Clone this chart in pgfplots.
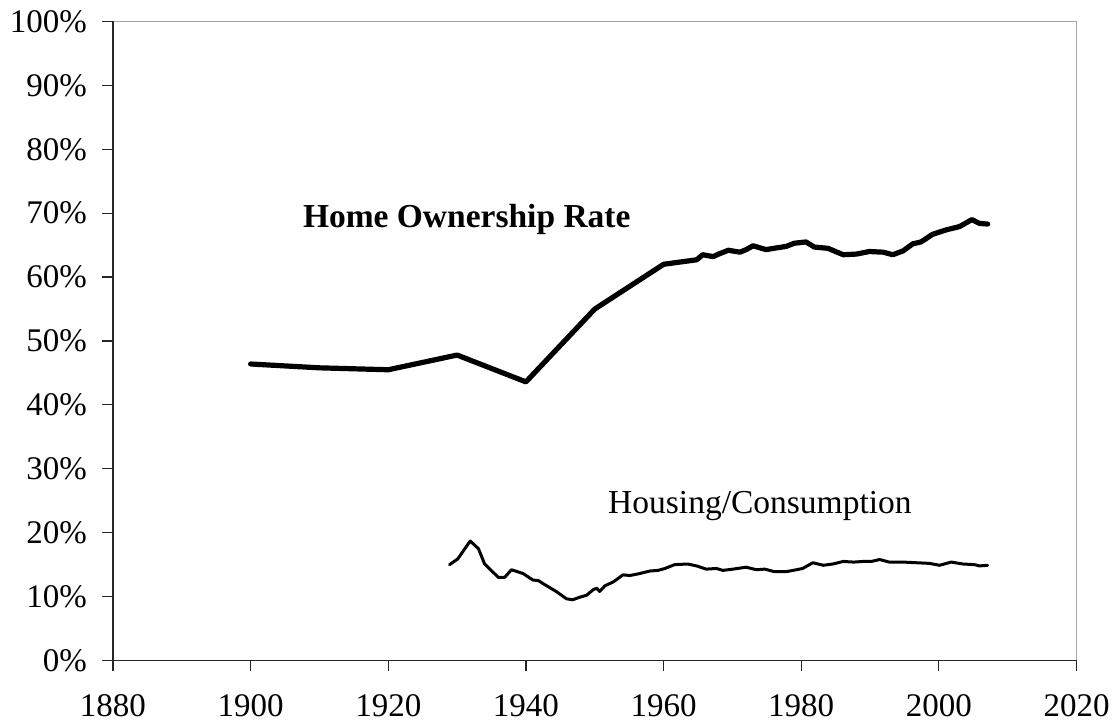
\documentclass[border=0pt]{standalone}
\usepackage{pgfplots}
\pgfplotsset{compat=1.18}
\usepackage{fontspec}
\setmainfont{Liberation Serif}
\begin{document}
\begin{tikzpicture}
\begin{axis}[
  name=ax,
  scale only axis,
  width=481.75pt, height=319.5pt,
  xmin=1880, xmax=2020, ymin=0, ymax=100,
  xtick={1880,1900,...,2020},
  ytick={0,10,...,100},
  /pgf/number format/assume math mode=true,
  xticklabel style={/pgf/number format/1000 sep={}},
  yticklabel={\pgfmathprintnumber{\tick}\%},
  tick label style={font=\fontsize{16.5}{20}\selectfont, text=black},
  tick align=outside,
  major tick length=5.5pt,
  xtick pos=bottom, ytick pos=left,
  tick style={black!85, line width=0.6pt},
  axis line style={gray!70, line width=0.6pt},
  xticklabel shift=8pt,
  yticklabel shift=4pt,
  clip=false,
]
\addplot[black, line width=2.6pt, line join=round, line cap=round] coordinates {
(1900,46.4) (1910,45.8) (1920,45.5) (1930,47.8) (1940,43.6) (1950,55.0)
(1960,62.0) (1962,62.3) (1964.8,62.7) (1965.7,63.5) (1967.2,63.2) (1968,63.6)
(1969.4,64.2) (1971.1,63.9) (1972,64.3) (1973.0,64.9) (1974.9,64.3) (1976,64.5)
(1977.8,64.8) (1979.0,65.3) (1980.7,65.5) (1981.9,64.7) (1983.9,64.5) (1986.1,63.5)
(1988.0,63.6) (1989.9,64.0) (1991.9,63.9) (1993.3,63.5) (1994.8,64.1) (1996.2,65.2)
(1997.4,65.5) (1999.1,66.7) (2001.1,67.4) (2003.0,67.9) (2004.8,69.0) (2005.9,68.4)
(2007.1,68.3)
};
\addplot[black, line width=1.5pt, line join=round, line cap=round] coordinates {
(1928.9,15.0) (1930.1,15.9) (1931.9,18.7) (1933.1,17.5) (1934.0,15.1) (1936.0,13.0)
(1936.9,13.0) (1937.9,14.2) (1939.6,13.6) (1941.0,12.6) (1941.8,12.5) (1943.0,11.7)
(1944.4,10.8) (1945.9,9.65) (1946.8,9.5) (1947.8,9.9) (1948.8,10.2) (1949.8,11.1)
(1950.3,11.3) (1950.7,10.8) (1951.5,11.7) (1952.7,12.3) (1954.1,13.4) (1955.1,13.3)
(1956.5,13.6) (1958.0,14.0) (1959.2,14.1) (1960.2,14.4) (1961.6,15.0) (1963.5,15.1)
(1964.8,14.8) (1966.2,14.3) (1967.7,14.4) (1968.6,14.1) (1970.1,14.3) (1972.0,14.6)
(1973.5,14.2) (1974.7,14.3) (1976.1,13.9) (1977.8,13.9) (1979.3,14.2) (1980.2,14.4)
(1981.7,15.3) (1983.2,14.9) (1984.6,15.1) (1986.1,15.5) (1987.6,15.4) (1989.0,15.5)
(1990.2,15.5) (1991.4,15.8) (1992.8,15.4) (1994.8,15.4) (1996.7,15.3) (1998.6,15.2)
(2000.1,14.9) (2001.8,15.4) (2003.5,15.1) (2005.2,15.0) (2005.9,14.8) (2007.1,14.9)
};
\node[anchor=base west, inner sep=0pt, font=\fontsize{16.75}{19}\selectfont\bfseries] at (axis cs:1907.55,67.8) {Home Ownership Rate};
\node[anchor=base west, inner sep=0pt, font=\fontsize{16.75}{19}\selectfont] at (axis cs:1951.9,23.0) {Housing/Consumption};
\end{axis}
\draw[black!85, line width=0.6pt] (ax.north west) -- (ax.south west) -- (ax.south east);
\pgfresetboundingbox
\path ([xshift=-56.5pt,yshift=-33.75pt]ax.south west) rectangle ([xshift=19.75pt,yshift=10.75pt]ax.north east);
\end{tikzpicture}
\end{document}
